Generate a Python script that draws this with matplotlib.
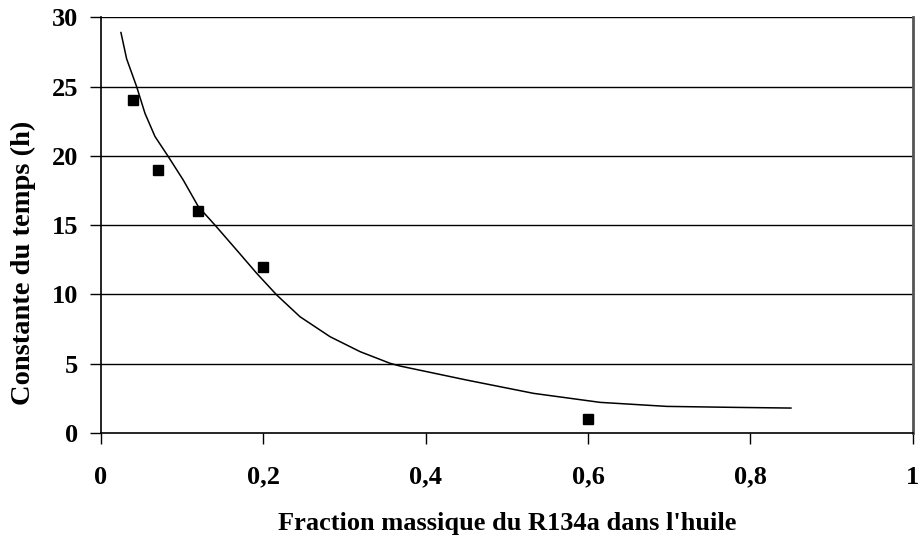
import matplotlib
matplotlib.use("Agg")
import matplotlib.pyplot as plt

# measured points
frac_points = [0.04, 0.07, 0.12, 0.2, 0.6]
tau_points = [24, 19, 16, 12, 1]

# fitted curve
frac_curve = [0.0246, 0.0316, 0.0439, 0.0542, 0.0665, 0.083, 0.1014, 0.12,
              0.1405, 0.1672, 0.1919, 0.2165, 0.2452, 0.2822, 0.3192, 0.3561,
              0.3686, 0.4506, 0.533, 0.615, 0.697, 0.779, 0.85]
tau_curve = [28.9, 27.0, 25.0, 23.07, 21.4, 19.94, 18.25, 16.33,
             15.0, 13.2, 11.52, 9.96, 8.39, 6.95, 5.87, 5.03,
             4.83, 3.82, 2.86, 2.21, 1.92, 1.85, 1.80]

x_ticks = [0, 0.2, 0.4, 0.6, 0.8, 1]
x_tick_labels = ["0", "0,2", "0,4", "0,6", "0,8", "1"]
y_ticks = [0, 5, 10, 15, 20, 25, 30]

plt.rcParams["font.family"] = ["Liberation Serif", "DejaVu Serif"]
plt.rcParams["font.weight"] = "bold"

fig = plt.figure(figsize=(9.18, 5.49), dpi=100)
ax = fig.add_axes([0.110, 0.2113, 0.8842, 0.7572])

for y in y_ticks[1:]:
    ax.axhline(y, color="black", lw=1.0, zorder=1)

ax.plot(frac_curve, tau_curve, color="black", lw=1.1, zorder=2)
ax.plot(frac_points, tau_points, ls="none", marker="s", ms=7.2,
        color="black", zorder=3)

ax.set_xlim(0, 1)
ax.set_ylim(0, 30)
ax.set_xticks(x_ticks)
ax.set_xticklabels(x_tick_labels)
ax.set_yticks(y_ticks)

ax.spines["top"].set_visible(False)
ax.spines["left"].set_linewidth(1.2)
ax.spines["bottom"].set_linewidth(1.2)
ax.spines["right"].set_color("#555555")
ax.spines["right"].set_linewidth(2)

ax.tick_params(axis="y", direction="out", length=8, width=1, pad=8.5, labelsize=19)
ax.tick_params(axis="x", direction="out", length=8, width=1, pad=15.5, labelsize=19)

ax.set_xlabel("Fraction massique du R134a dans l'huile", fontsize=19,
              fontweight="bold", labelpad=17)
ax.set_ylabel("Constante du temps (h)", fontsize=20.5, fontweight="bold")
ax.yaxis.set_label_coords(-0.080, 0.41)

fig.savefig("out.png", dpi=100)
